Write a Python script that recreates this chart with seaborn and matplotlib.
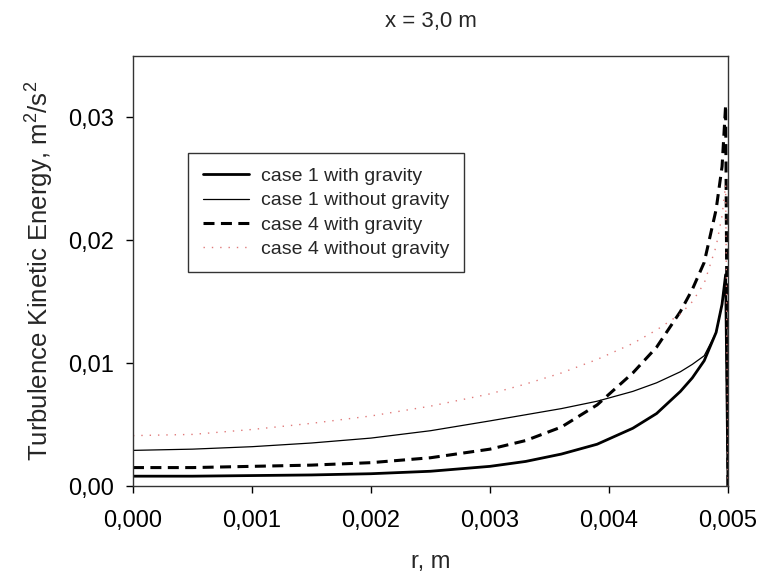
import numpy as np
import pandas as pd
import matplotlib
matplotlib.use("Agg")
import matplotlib.pyplot as plt
import seaborn as sns
from matplotlib.ticker import FuncFormatter

# radial positions, m
r = [0.0, 0.0005, 0.001, 0.0015, 0.002, 0.0025, 0.003, 0.0033, 0.0036, 0.0039,
     0.0042, 0.0044, 0.0046, 0.0047, 0.0048, 0.0049, 0.00495, 0.00498, 0.005]

# turbulence kinetic energy, m^2/s^2
k_case1_grav = [0.0008, 0.0008, 0.00085, 0.0009, 0.001, 0.0012, 0.0016, 0.0020, 0.0026, 0.0034,
                0.0047, 0.0059, 0.0077, 0.0088, 0.0102, 0.0125, 0.0148, 0.0172, 0.0]
k_case1_nograv = [0.0029, 0.0030, 0.0032, 0.0035, 0.0039, 0.0045, 0.0053, 0.0058, 0.0063, 0.0069,
                  0.0077, 0.0084, 0.0093, 0.0099, 0.0106, 0.0125, 0.0148, 0.0172, 0.0]
k_case4_grav = [0.0015, 0.0015, 0.0016, 0.0017, 0.0019, 0.0023, 0.0030, 0.0037, 0.0048, 0.0066,
                0.0092, 0.0113, 0.0142, 0.0160, 0.0182, 0.0225, 0.0260, 0.0310, 0.0]
k_case4_nograv = [0.0041, 0.0042, 0.0046, 0.0051, 0.0057, 0.0065, 0.0075, 0.0083, 0.0092, 0.0103,
                  0.0116, 0.0127, 0.0140, 0.0150, 0.0165, 0.0195, 0.0220, 0.0245, 0.0]

labels = ["case 1 with gravity", "case 1 without gravity",
          "case 4 with gravity", "case 4 without gravity"]
series = [k_case1_grav, k_case1_nograv, k_case4_grav, k_case4_nograv]

x_ticks = [0.000, 0.001, 0.002, 0.003, 0.004, 0.005]
y_ticks = [0.00, 0.01, 0.02, 0.03]

frames = [pd.DataFrame({"r": r, "k": s, "case": lab}) for lab, s in zip(labels, series)]
df = pd.concat(frames, ignore_index=True)

sns.set_theme(style="ticks")
plt.rcParams["font.family"] = ["Liberation Sans", "DejaVu Sans"]
plt.rcParams["mathtext.fontset"] = "custom"
plt.rcParams["mathtext.rm"] = "Liberation Sans"

fig = plt.figure(figsize=(7.62, 5.77), dpi=100)
ax = fig.add_axes([0.1745, 0.1577, 0.7809, 0.7453])

styles = {
    "case 1 with gravity": dict(color="black", lw=2.0, ls="-"),
    "case 1 without gravity": dict(color="black", lw=0.9, ls="-"),
    "case 4 with gravity": dict(color="black", lw=2.2, ls=(0, (3.6, 2.1))),
    "case 4 without gravity": dict(color="#e07a7a", lw=1.0, ls=(0, (1, 5))),
}

for lab in labels:
    st = styles[lab]
    sns.lineplot(data=df[df["case"] == lab], x="r", y="k", ax=ax, label=lab,
                 color=st["color"], linewidth=st["lw"], linestyle=st["ls"],
                 estimator=None, sort=False)

ax.set_xlim(0, 0.005)
ax.set_ylim(0, 0.035)
ax.set_xticks(x_ticks)
ax.set_yticks(y_ticks)
ax.xaxis.set_major_formatter(FuncFormatter(lambda v, p: f"{v:.3f}".replace(".", ",")))
ax.yaxis.set_major_formatter(FuncFormatter(lambda v, p: f"{v:.2f}".replace(".", ",")))
ax.tick_params(axis="both", direction="out", length=5, width=1, labelsize=17, color="black",
               labelcolor="black", pad=9)
ax.tick_params(axis="x", pad=12)

for sp in ax.spines.values():
    sp.set_color("#333333")
    sp.set_linewidth(1.0)

ax.set_xlabel("r, m", fontsize=17, labelpad=14)
ax.set_ylabel("Turbulence Kinetic Energy, m$^2$/s$^2$", fontsize=18.5, labelpad=9)
ax.set_title("x = 3,0 m", fontsize=16, pad=21)

leg = ax.legend(loc="upper left", bbox_to_anchor=(0.0924, 0.7744), frameon=True,
                fancybox=False, edgecolor="black", fontsize=14, handlelength=2.4,
                borderpad=0.75, labelspacing=0.34, handletextpad=0.6, borderaxespad=0)
leg.get_frame().set_linewidth(1.0)

fig.savefig("out.png", dpi=100)
